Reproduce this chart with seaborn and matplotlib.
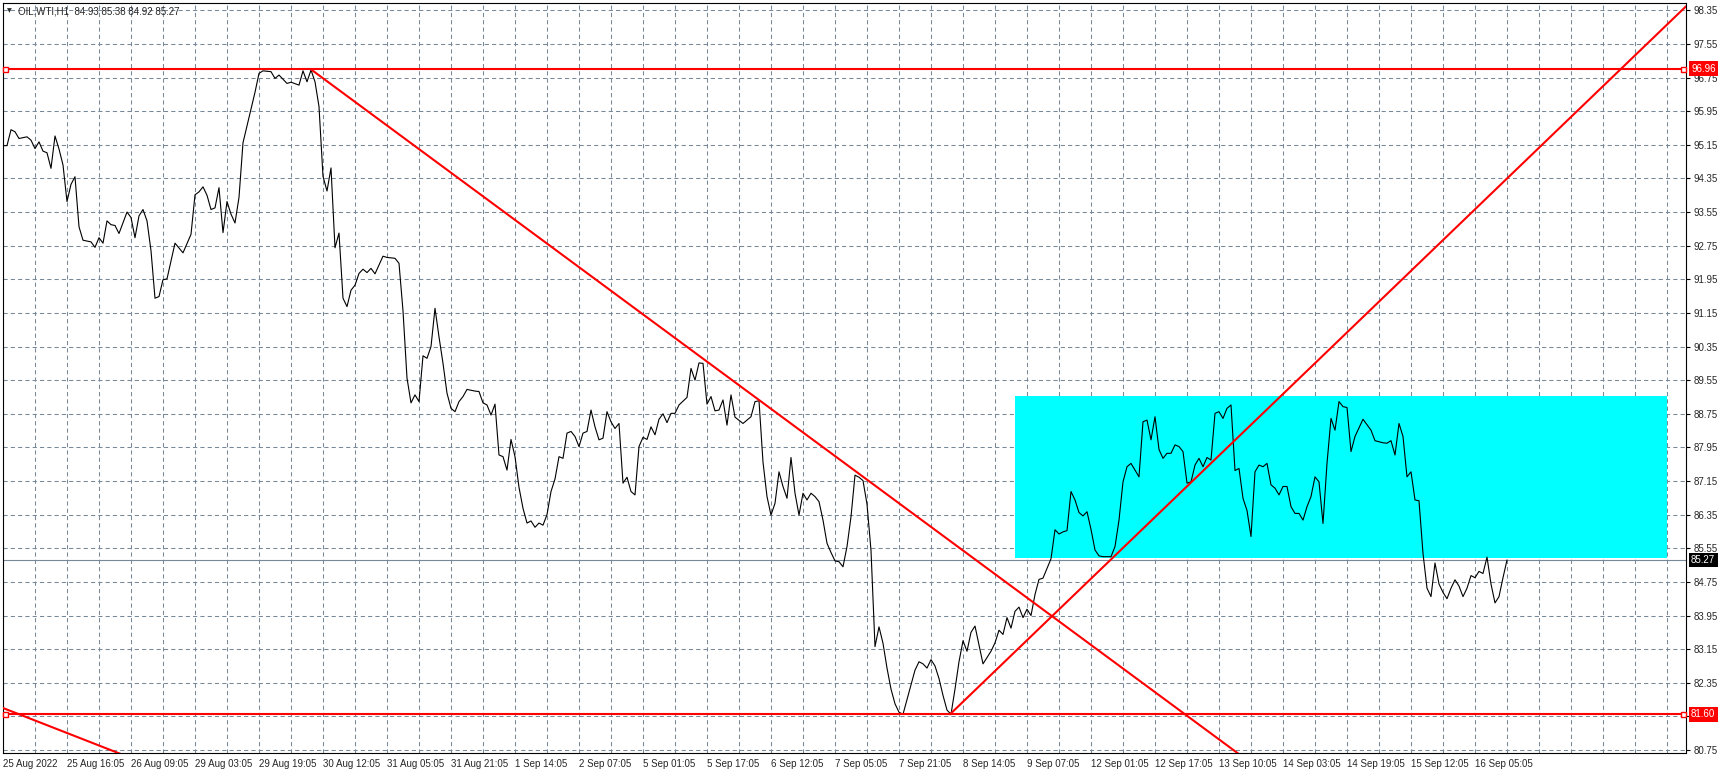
import numpy as np
import pandas as pd
import seaborn as sns
import matplotlib
matplotlib.use("Agg")
import matplotlib.pyplot as plt
from matplotlib.ticker import MultipleLocator

# ---- data (bar index = one H1 bar) ----
price_bar = [
    0, 1, 2, 3, 4, 6, 7, 8, 9, 10, 11, 12, 13, 14, 15, 16, 17, 18, 19, 20,
    22, 23, 24, 25, 26, 27, 28, 29, 31, 32, 33, 34, 35, 36, 37, 38, 39, 40, 41, 43,
    45, 47, 48, 49, 50, 51, 52, 53, 54, 55, 56, 57, 58, 59, 60, 61, 62, 63, 64, 65,
    67, 68, 69, 71, 72, 74, 75, 76, 77, 78, 79, 80, 81, 82, 83, 84, 85, 86, 87, 88,
    89, 90, 91, 92, 93, 95, 96, 98, 99, 100, 101, 102, 103, 104, 105, 106, 107, 108, 109, 110,
    111, 112, 113, 114, 115, 116, 118, 119, 120, 121, 122, 123, 124, 125, 126, 127, 128, 129, 130, 131,
    132, 133, 134, 135, 136, 137, 138, 139, 140, 141, 142, 143, 144, 145, 146, 147, 148, 149, 150, 151,
    152, 153, 154, 155, 156, 157, 158, 159, 160, 161, 162, 163, 164, 165, 166, 167, 168, 169, 171, 172,
    173, 174, 175, 176, 177, 178, 179, 180, 181, 182, 183, 185, 186, 187, 188, 189, 190, 191, 192, 193,
    194, 195, 196, 197, 198, 199, 200, 201, 202, 203, 204, 205, 206, 207, 208, 209, 210, 211, 212, 213,
    214, 215, 216, 217, 218, 219, 220, 221, 222, 223, 224, 225, 226, 227, 228, 229, 230, 231, 232, 233,
    234, 235, 236, 237, 238, 239, 240, 241, 242, 243, 244, 245, 246, 247, 248, 249, 250, 251, 252, 253,
    254, 255, 256, 257, 258, 259, 260, 261, 262, 263, 264, 265, 266, 267, 268, 269, 270, 271, 272, 273,
    274, 275, 277, 278, 279, 280, 281, 282, 283, 284, 285, 286, 287, 288, 289, 290, 291, 292, 293, 294,
    295, 296, 297, 298, 299, 300, 301, 302, 303, 304, 305, 306, 307, 308, 309, 310, 311, 312, 313, 314,
    315, 316, 317, 318, 319, 320, 321, 322, 323, 324, 325, 326, 327, 328, 329, 330, 331, 332, 333, 334,
    335, 336, 337, 338, 340, 342, 343, 345, 346, 347, 348, 349, 350, 351, 352, 353, 354, 355, 356, 357,
    358, 359, 360, 361, 362, 363, 364, 365, 366, 367, 368, 369, 370, 371, 372, 373, 374, 375, 376,
]
price_close = [
    95.13, 95.13, 95.51, 95.46, 95.30, 95.34, 95.26, 95.06, 95.22, 95.00, 94.96, 94.59, 95.36, 95.05, 94.67, 93.80, 94.21, 94.39, 93.20, 92.88,
    92.84, 92.71, 92.94, 92.81, 93.34, 93.25, 93.23, 93.04, 93.55, 93.42, 92.94, 93.46, 93.61, 93.34, 92.63, 91.50, 91.54, 91.94, 91.96, 92.81,
    92.58, 93.02, 93.96, 94.03, 94.15, 93.95, 93.61, 93.65, 94.13, 93.06, 93.80, 93.50, 93.29, 93.90, 95.20, 95.60, 96.00, 96.40, 96.85, 96.91,
    96.89, 96.73, 96.81, 96.61, 96.64, 96.57, 96.91, 96.65, 96.93, 96.65, 96.06, 94.40, 94.05, 94.60, 92.70, 93.05, 91.50, 91.30, 91.69, 91.81,
    92.09, 92.19, 92.11, 92.21, 92.08, 92.50, 92.47, 92.45, 92.33, 91.20, 89.60, 89.01, 89.20, 89.04, 90.13, 90.07, 90.35, 91.26, 90.58, 89.95,
    89.24, 88.88, 88.80, 89.04, 89.16, 89.33, 89.29, 89.28, 89.01, 88.96, 88.72, 88.98, 87.77, 87.73, 87.41, 88.14, 87.73, 87.00, 86.50, 86.15,
    86.20, 86.05, 86.15, 86.10, 86.35, 86.90, 87.20, 87.73, 87.69, 88.29, 88.33, 88.21, 87.97, 88.29, 88.33, 88.84, 88.44, 88.13, 88.17, 88.80,
    88.56, 88.40, 88.52, 87.10, 87.24, 86.90, 86.82, 87.97, 88.19, 88.14, 88.44, 88.25, 88.62, 88.75, 88.54, 88.76, 88.76, 88.96, 89.14, 89.83,
    89.55, 89.96, 89.95, 88.98, 89.16, 88.82, 88.84, 89.08, 88.48, 89.20, 88.67, 88.52, 88.60, 88.68, 89.04, 89.06, 87.60, 86.78, 86.34, 86.62,
    87.37, 87.02, 86.74, 87.71, 86.86, 86.34, 86.86, 86.70, 86.86, 86.78, 86.66, 86.22, 85.67, 85.45, 85.25, 85.23, 85.11, 85.59, 86.30, 87.29,
    87.24, 87.16, 86.60, 85.50, 83.21, 83.68, 83.29, 82.70, 82.20, 81.85, 81.65, 81.60, 81.95, 82.30, 82.65, 82.85, 82.80, 82.70, 82.90, 82.75,
    82.45, 82.05, 81.70, 81.60, 82.20, 82.85, 83.35, 83.10, 83.55, 83.70, 83.25, 82.80, 82.95, 83.10, 83.30, 83.60, 83.50, 83.90, 83.65, 84.05,
    84.15, 83.90, 84.10, 83.95, 84.45, 84.81, 84.84, 85.07, 85.30, 85.99, 85.89, 85.94, 85.97, 86.90, 86.70, 86.40, 86.32, 86.42, 86.00, 85.51,
    85.37, 85.35, 85.35, 85.59, 86.22, 87.13, 87.49, 87.57, 87.41, 87.25, 88.56, 88.60, 88.13, 88.68, 87.90, 87.69, 87.81, 87.81, 88.01, 87.97,
    87.85, 87.10, 87.13, 87.53, 87.69, 87.49, 87.71, 87.65, 88.76, 88.80, 88.64, 88.88, 88.96, 87.40, 87.45, 86.74, 86.45, 85.83, 87.37, 87.53,
    87.49, 87.57, 87.06, 86.98, 86.82, 87.02, 87.02, 86.54, 86.38, 86.38, 86.22, 86.54, 86.78, 87.25, 87.13, 86.14, 87.57, 88.64, 88.36, 89.04,
    88.92, 88.90, 87.85, 88.21, 88.62, 88.36, 88.11, 88.06, 88.05, 88.11, 87.77, 88.52, 88.21, 87.25, 87.37, 86.70, 86.68, 85.43, 84.60, 84.40,
    85.20, 84.70, 84.50, 84.35, 84.60, 84.80, 84.65, 84.40, 84.60, 84.90, 84.85, 85.00, 84.95, 85.34, 84.70, 84.25, 84.40, 84.85, 85.27,
]

x_labels = [
    "25 Aug 2022", "25 Aug 16:05", "26 Aug 09:05", "29 Aug 03:05", "29 Aug 19:05",
    "30 Aug 12:05", "31 Aug 05:05", "31 Aug 21:05", "1 Sep 14:05", "2 Sep 07:05",
    "5 Sep 01:05", "5 Sep 17:05", "6 Sep 12:05", "7 Sep 05:05", "7 Sep 21:05",
    "8 Sep 14:05", "9 Sep 07:05", "12 Sep 01:05", "12 Sep 17:05", "13 Sep 10:05",
    "14 Sep 03:05", "14 Sep 19:05", "15 Sep 12:05", "16 Sep 05:05",
]
y_ticks = [80.75, 81.55, 82.35, 83.15, 83.95, 84.75, 85.55, 86.35, 87.15, 87.95, 88.75, 89.55,
           90.35, 91.15, 91.95, 92.75, 93.55, 94.35, 95.15, 95.95, 96.75, 97.55, 98.35]

level_high = 96.96
level_low = 81.60
last_price = 85.27
header = "OIL.WTI,H1  84.93 85.38 84.92 85.27"

# trend line anchors (bar, price)
down_bars, down_prices = [77.2, 295.5], [96.93, 81.60]
up_bars, up_prices = [236.75, 420.7], [81.60, 98.44]
lower_bars, lower_prices = [0, 32], [81.75, 80.56]

# cyan box
box_bars = [253, 416]
box_low, box_high = 85.33, 89.18

RED = "#FF0000"
GRID = "#778899"
FS = 7.0


def ray(bars, prices, x_from, x_to):
    slope = (prices[1] - prices[0]) / (bars[1] - bars[0])
    xs = np.array([x_from, x_to])
    return xs, prices[0] + slope * (xs - bars[0])


def main():
    sns.set_style("white")
    plt.rcParams["font.family"] = ["Liberation Sans", "DejaVu Sans"]

    W, H = 1727, 774
    fig = plt.figure(figsize=(W / 100, H / 100), dpi=100)
    ax = fig.add_axes([2.5 / W, 1 - 753 / H, (1686 - 2.5) / W, (753 - 2.5) / H])
    xmin, xmax = -0.125, 420.75
    ax.set_xlim(xmin, xmax)
    ax.set_ylim(80.679, 98.536)

    # cyan rectangle
    ax.fill_between(box_bars, box_low, box_high, color="#00FFFF", lw=0, zorder=1)

    # price line
    df = pd.DataFrame({"bar": price_bar, "close": price_close})
    sns.lineplot(data=df, x="bar", y="close", ax=ax, color="black", linewidth=0.8,
                 estimator=None, sort=False, zorder=3)

    # current price line
    ax.axhline(last_price, color=GRID, lw=0.8, zorder=2)

    # horizontal levels with handles
    for lvl in (level_high, level_low):
        ax.axhline(lvl, color=RED, lw=1.5, zorder=4)
        ax.plot([xmin + 0.55, xmax - 0.85], [lvl, lvl], "s", ms=3.6, mfc="white",
                mec=RED, mew=1.0, zorder=5, clip_on=False)

    # trend lines
    xs, ys = ray(down_bars, down_prices, down_bars[0], xmax)
    ax.plot(xs, ys, color=RED, lw=1.5, zorder=4)
    xs, ys = ray(up_bars, up_prices, up_bars[0], xmax)
    ax.plot(xs, ys, color=RED, lw=1.5, zorder=4)
    xs, ys = ray(lower_bars, lower_prices, xmin, 60)
    ax.plot(xs, ys, color=RED, lw=1.5, zorder=4)

    # axis ticks / grid
    ax.set_xticks(np.arange(len(x_labels)) * 16)
    ax.set_xticklabels(x_labels, ha="left")
    ax.xaxis.set_minor_locator(MultipleLocator(8))
    ax.set_yticks(y_ticks)
    # the 81.55 label sits under the 81.60 level tag
    ax.set_yticklabels(["" if abs(v - level_low) < 0.2 else f"{v:.2f}" for v in y_ticks])
    ax.yaxis.tick_right()
    ax.tick_params(axis="x", which="major", length=3, width=0.8, pad=1.5,
                   labelsize=FS, direction="out", color="black")
    ax.tick_params(axis="x", which="minor", length=0)
    ax.tick_params(axis="y", length=3, width=0.8, pad=2.5, labelsize=FS,
                   direction="out", color="black", right=True, left=False)
    ax.grid(which="both", axis="x", color=GRID, ls=(0, (4, 3)), lw=0.75)
    ax.grid(which="major", axis="y", color=GRID, ls=(0, (4, 3)), lw=0.75)
    ax.set_xlabel("")
    ax.set_ylabel("")
    for sp in ax.spines.values():
        sp.set_color("black")
        sp.set_linewidth(0.8)

    # price tags on the right axis
    for val, bg in ((level_high, RED), (level_low, RED), (last_price, "black")):
        ax.annotate(f"{val:.2f}", xy=(1, val), xycoords=("axes fraction", "data"),
                    xytext=(5, 0), textcoords="offset pixels", ha="left", va="center",
                    color="white", fontsize=FS, zorder=8, annotation_clip=False,
                    bbox=dict(boxstyle="square,pad=0.25", fc=bg, ec="none"))

    # header
    fig.text(7 / W, 1 - 11 / H, "▼", fontsize=4.5, va="center", ha="left",
             family=["DejaVu Sans"])
    fig.text(18 / W, 1 - 11 / H, header, fontsize=FS, va="center", ha="left")

    fig.savefig("out.png", dpi=100)


if __name__ == "__main__":
    main()
